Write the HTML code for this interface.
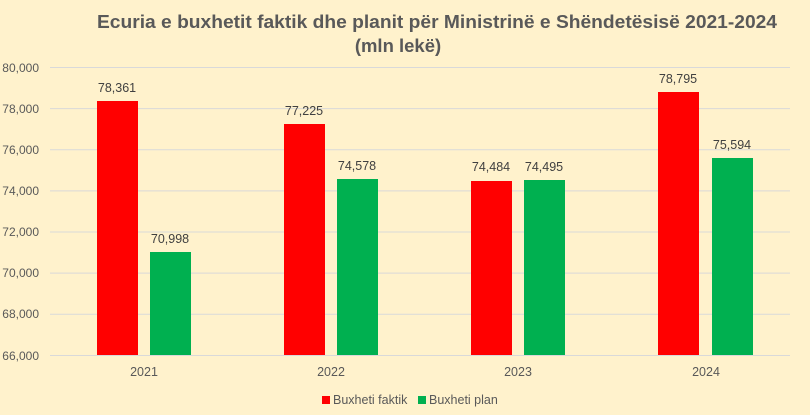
<!DOCTYPE html><html><head><meta charset="utf-8"><style>body{margin:0;background:#FFF2CC}svg{display:block}</style></head><body>
<svg width="810" height="415" xmlns="http://www.w3.org/2000/svg" font-family="Liberation Sans, sans-serif">
<rect width="810" height="415" fill="#FFF2CC"/>
<text x="437" y="28" text-anchor="middle" font-size="18.5" font-weight="bold" fill="#595959" textLength="680" lengthAdjust="spacingAndGlyphs">Ecuria e buxhetit faktik dhe planit për Ministrinë e Shëndetësisë 2021-2024</text>
<text x="398" y="52" text-anchor="middle" font-size="18.5" font-weight="bold" fill="#595959">(mln lekë)</text>
<g stroke="#D9D9D9" stroke-width="1">
<line x1="50" x2="790" y1="67.5" y2="67.5"/><line x1="50" x2="790" y1="108.6" y2="108.6"/><line x1="50" x2="790" y1="149.7" y2="149.7"/><line x1="50" x2="790" y1="190.9" y2="190.9"/><line x1="50" x2="790" y1="232" y2="232"/><line x1="50" x2="790" y1="273.1" y2="273.1"/><line x1="50" x2="790" y1="314.3" y2="314.3"/><line x1="50" x2="790" y1="355.5" y2="355.5"/></g>
<g font-size="12" fill="#595959" text-anchor="end">
<text x="39" y="72">80,000</text><text x="39" y="113">78,000</text><text x="39" y="154">76,000</text><text x="39" y="195">74,000</text><text x="39" y="236">72,000</text><text x="39" y="277">70,000</text><text x="39" y="318">68,000</text><text x="39" y="360">66,000</text></g>
<g fill="#FF0000"><rect x="97" y="101" width="41" height="254"/><rect x="284" y="124" width="41" height="231"/><rect x="471" y="181" width="41" height="174"/><rect x="658" y="92" width="41" height="263"/></g>
<g fill="#00B050"><rect x="150" y="252" width="41" height="103"/><rect x="337" y="179" width="41" height="176"/><rect x="524" y="180" width="41" height="175"/><rect x="712" y="158" width="41" height="197"/></g>
<g font-size="12.5" fill="#404040" text-anchor="middle">
<text x="117" y="92">78,361</text><text x="170" y="243">70,998</text>
<text x="304" y="115">77,225</text><text x="357" y="170">74,578</text>
<text x="491" y="171">74,484</text><text x="544" y="171">74,495</text>
<text x="678" y="83">78,795</text><text x="732" y="149">75,594</text></g>
<g font-size="12.5" fill="#595959" text-anchor="middle">
<text x="144" y="376">2021</text><text x="331" y="376">2022</text><text x="518" y="376">2023</text><text x="706" y="376">2024</text></g>
<rect x="322" y="396" width="8" height="8" fill="#FF0000"/><text x="333" y="404" font-size="12.5" fill="#595959">Buxheti faktik</text>
<rect x="418" y="396" width="8" height="8" fill="#00B050"/><text x="429" y="404" font-size="12.5" fill="#595959">Buxheti plan</text>
</svg></body></html>
